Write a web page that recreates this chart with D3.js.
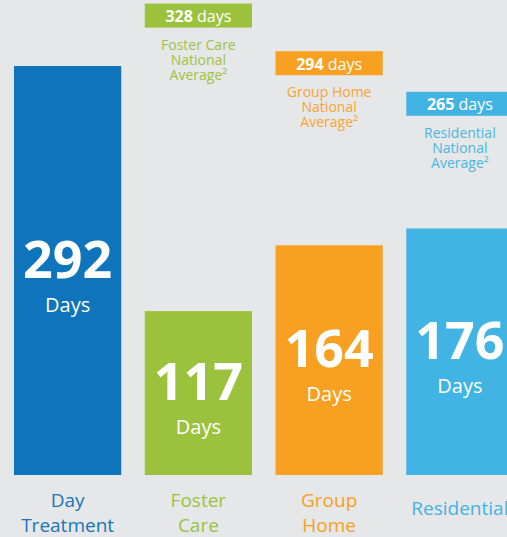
<!DOCTYPE html>
<html>
<head>
<meta charset="utf-8">
<script src="https://cdn.jsdelivr.net/npm/d3@7"></script>
<style>
  html, body { margin: 0; padding: 0; background: #e6e7e8; overflow: hidden; }
  svg { display: block; }
  text { font-family: "Open Sans", "Noto Sans", sans-serif; }
</style>
</head>
<body>
<svg id="chart" width="507" height="537"></svg>
<script>
// ---- data ----
const categories = ["Day Treatment", "Foster Care", "Group Home", "Residential"];
const categoryLines = [["Day", "Treatment"], ["Foster", "Care"], ["Group", "Home"], ["Residential"]];
const days = [292, 117, 164, 176];
const nationalAverage = [null, 328, 294, 265];
const averageLines = [null,
  ["Foster Care", "National", "Average\u00B2"],
  ["Group Home", "National", "Average\u00B2"],
  ["Residential", "National", "Average\u00B2"]];
const unitLabel = "Days";
const avgUnit = "days";

// ---- styles ----
const barColors = ["#0e74bb", "#9bc23d", "#f8a021", "#42b4e4"];
const labelColors = ["#1a75bb", "#9bc23d", "#f8a021", "#42b4e4"];
const avgTextColors = ["#1a75bb", "#9dc345", "#f8a530", "#4ab6e5"];

const baseline = 475;
const svg = d3.select("#chart");

const x = d3.scaleBand().domain(categories).range([14, 513.5]).paddingInner(0.18).paddingOuter(0);
const y = d3.scaleLinear().domain([0, 292]).range([baseline, 66]);

const rows = categories.map((c, i) => ({
  cat: c, v: days[i], avg: nationalAverage[i], avgLines: averageLines[i],
  lines: categoryLines[i], i
}));

// bars
svg.selectAll("rect.bar").data(rows).join("rect")
  .attr("class", "bar")
  .attr("x", d => x(d.cat))
  .attr("y", d => y(d.v))
  .attr("width", x.bandwidth())
  .attr("height", d => y(0) - y(d.v))
  .attr("fill", d => barColors[d.i]);

// value labels in bars
const vg = svg.selectAll("g.val").data(rows).join("g").attr("class", "val")
  .attr("transform", d => `translate(${x(d.cat) + x.bandwidth() / 2},${(y(d.v) + y(0)) / 2 + 7})`);
vg.append("text")
  .attr("text-anchor", "middle")
  .attr("font-size", 52).attr("font-weight", 700).attr("fill", "#fff")
  .text(d => d.v);
vg.append("text")
  .attr("text-anchor", "middle").attr("y", 34)
  .attr("font-size", 20).attr("fill", "#fff")
  .text(unitLabel);

// national average boxes
const ag = svg.selectAll("g.avg").data(rows.filter(d => d.avg != null)).join("g").attr("class", "avg")
  .attr("transform", d => `translate(${x(d.cat)},${y(d.avg)})`);
ag.append("rect")
  .attr("x", 0).attr("y", -12)
  .attr("width", x.bandwidth()).attr("height", 24)
  .attr("fill", d => barColors[d.i]);
const at = ag.append("text")
  .attr("x", x.bandwidth() / 2).attr("y", 6.5)
  .attr("text-anchor", "middle").attr("font-size", 16).attr("fill", "#fff");
at.append("tspan").attr("font-weight", 700).text(d => d.avg);
at.append("tspan").text(" " + avgUnit);
ag.each(function (d) {
  const g = d3.select(this);
  d.avgLines.forEach((ln, k) => {
    g.append("text")
      .attr("x", x.bandwidth() / 2).attr("y", 34 + k * 15)
      .attr("text-anchor", "middle").attr("font-size", 14)
      .attr("fill", avgTextColors[d.i])
      .text(ln);
  });
});

// category labels
const cg = svg.selectAll("g.cat").data(rows).join("g").attr("class", "cat")
  .attr("transform", d => `translate(${x(d.cat) + x.bandwidth() / 2},0)`);
cg.each(function (d) {
  const g = d3.select(this);
  const n = d.lines.length;
  d.lines.forEach((ln, k) => {
    g.append("text")
      .attr("y", n === 1 ? 515 : 507 + k * 25)
      .attr("text-anchor", "middle").attr("font-size", 19)
      .attr("fill", labelColors[d.i])
      .text(ln);
  });
});
</script>
</body>
</html>
